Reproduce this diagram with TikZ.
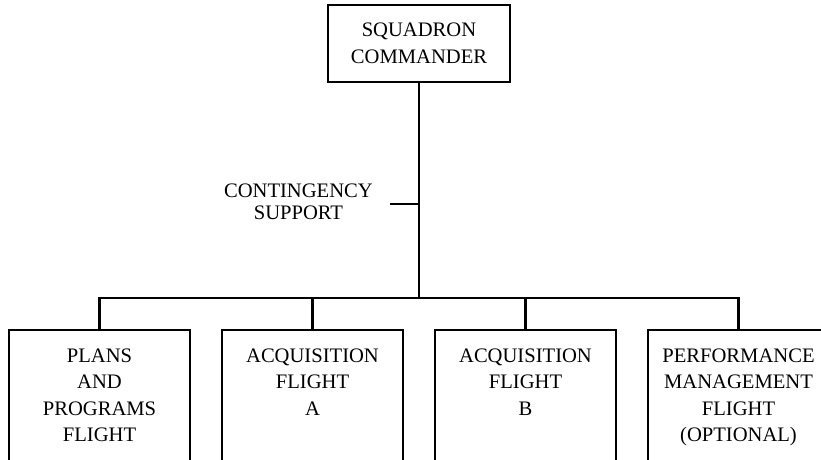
\documentclass[tikz,border=0pt]{standalone}
\usepackage{fontspec}
\setmainfont{Liberation Serif}
\usetikzlibrary{positioning}

\tikzset{
  unitbox/.style={draw, line width=2pt, inner sep=0pt, outer sep=0pt, minimum width=181pt, anchor=north},
  link/.style={line width=2.5pt},
}
\newcommand{\unittext}[1]{\parbox[t][170pt][t]{181pt}{\centering\rule{0pt}{32pt}#1}}

\begin{document}
\begin{tikzpicture}[x=1pt, y=1pt, font=\fontsize{20.6}{26.5}\selectfont]
\useasboundingbox (0,0) rectangle (821,459);
\clip (0,0) rectangle (821,459);

\node [draw, line width=2pt, minimum width=182pt, minimum height=77pt, align=center,
  font=\fontsize{20.6}{27}\selectfont] (cmd) at (419, 415.5) {SQUADRON\\COMMANDER};

% flights along the bottom
\node [unitbox] (plans) at (99.5, 129) {\unittext{PLANS\\AND\\PROGRAMS\\FLIGHT}};
\node [unitbox, right=32pt of plans] (acqa) {\unittext{ACQUISITION\\FLIGHT\\A}};
\node [unitbox, right=32pt of acqa] (acqb) {\unittext{ACQUISITION\\FLIGHT\\B}};
\node [unitbox, right=32pt of acqb] (perf) {\unittext{PERFORMANCE\\MANAGEMENT\\FLIGHT\\(OPTIONAL)}};

\coordinate (bus) at (419, 161);
\draw [link] (cmd.south) -- (bus);
\draw [link] (plans.north) -- (plans.north |- bus) -| (perf.north);
\draw [link] (acqa.north) -- (acqa.north |- bus);
\draw [link] (acqb.north) -- (acqb.north |- bus);

% contingency support stub
\coordinate (cs) at (419, 255);
\draw [link] (cs) -- ++(-29, 0) coordinate (csend);
\node [anchor=east, inner sep=0pt, align=center, font=\fontsize{20.6}{22}\selectfont]
  (cont) at ([xshift=-17pt, yshift=2pt]csend) {CONTINGENCY\\SUPPORT};
\end{tikzpicture}
\end{document}
